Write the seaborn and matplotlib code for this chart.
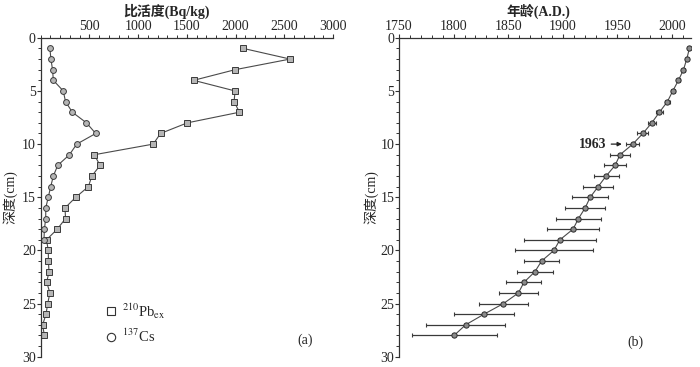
import matplotlib
matplotlib.use("Agg")
import matplotlib.pyplot as plt
from matplotlib.lines import Line2D
from matplotlib.ticker import MultipleLocator
import numpy as np
import pandas as pd
import seaborn as sns

# depth of each sample (cm)
depth = list(range(1, 29))

# 210Pb excess activity (Bq/kg), depths 1-28
pb_ex = [2080, 2560, 1995, 1570, 1995, 1985, 2040, 1505, 1230, 1155,
         550, 610, 525, 490, 360, 250, 255, 170, 60, 78,
         80, 85, 62, 95, 72, 55, 20, 38]

# 137Cs activity (Bq/kg), depths 1-19
cs_depth = list(range(1, 20))
cs137 = [95, 105, 122, 130, 232, 255, 325, 470, 565, 370,
         295, 175, 130, 103, 78, 52, 52, 38, 34]

# age model (A.D.) and its uncertainty (years)
age = [2015.8, 2013.4, 2010.4, 2005.8, 2000.6, 1995.7, 1988.4, 1981.4, 1973.2, 1964.0,
       1952.3, 1947.8, 1939.6, 1932.3, 1925.0, 1920.4, 1914.3, 1909.3, 1897.3, 1891.8,
       1880.5, 1874.4, 1864.4, 1859.3, 1845.6, 1827.8, 1811.0, 1800.4]
age_err = [0.8, 1.0, 1.2, 1.5, 1.8, 2.2, 2.8, 3.5, 5.0, 6.1,
           8.9, 9.9, 11.4, 13.9, 16.2, 18.0, 20.6, 23.7, 32.7, 35.4,
           15.9, 16.8, 16.0, 17.9, 22.1, 27.5, 36.3, 38.9]

sns.set_style("ticks")
plt.rcParams["font.family"] = ["Liberation Serif", "Noto Sans CJK SC"]
plt.rcParams["mathtext.fontset"] = "stix"
plt.rcParams["font.size"] = 10

pb_df = pd.DataFrame({"depth": depth, "value": pb_ex})
cs_df = pd.DataFrame({"depth": cs_depth, "value": cs137})
age_df = pd.DataFrame({"depth": depth, "age": age, "err": age_err})

fig = plt.figure(figsize=(7, 3.67), dpi=100)
ax1 = fig.add_axes([0.0581, 0.028, 0.4176, 0.869])
ax2 = fig.add_axes([0.570, 0.028, 0.4167, 0.869])

line_c = "#4a4a4a"

sns.lineplot(data=pb_df, x="value", y="depth", sort=False, estimator=None,
             marker="s", markersize=4.2, color=line_c, linewidth=0.8,
             markerfacecolor="#b5b5b5", markeredgecolor="#3a3a3a",
             markeredgewidth=0.7, ax=ax1)
sns.lineplot(data=cs_df, x="value", y="depth", sort=False, estimator=None,
             marker="o", markersize=4.2, color=line_c, linewidth=0.8,
             markerfacecolor="#b5b5b5", markeredgecolor="#3a3a3a",
             markeredgewidth=0.7, ax=ax1)

ax2.errorbar(age_df["age"], age_df["depth"], xerr=age_df["err"], fmt="none",
             ecolor="#3a3a3a", elinewidth=0.9, capsize=1.5, capthick=0.8)
sns.lineplot(data=age_df, x="age", y="depth", sort=False, estimator=None,
             marker="o", markersize=3.8, color=line_c, linewidth=0.8,
             markerfacecolor="#8a8a8a", markeredgecolor="#2a2a2a",
             markeredgewidth=0.7, ax=ax2)

for ax in (ax1, ax2):
    ax.set_ylim(30, 0)
    ax.yaxis.set_major_locator(MultipleLocator(5))
    ax.yaxis.set_minor_locator(MultipleLocator(1))
    ax.xaxis.tick_top()
    ax.xaxis.set_label_position("top")
    ax.spines["right"].set_visible(False)
    ax.spines["bottom"].set_visible(False)
    for s in ("left", "top"):
        ax.spines[s].set_color("#333333")
        ax.spines[s].set_linewidth(0.9)
    ax.tick_params(which="major", length=3, width=0.8, color="#333333",
                   labelsize=10, pad=0.5)
    ax.tick_params(which="minor", length=2, width=0.7, color="#333333")
    ax.set_ylabel("深度(cm)", fontsize=10)

ax1.set_xlim(0, 3000)
ax1.set_xticks([500, 1000, 1500, 2000, 2500, 3000])
ax1.xaxis.set_minor_locator(MultipleLocator(100))
ax1.set_xlabel("比活度(Bq/kg)", fontsize=10, fontweight="bold")
ax1.xaxis.set_label_coords(0.432, 1.07)
ax1.yaxis.set_label_coords(-0.08, 0.5)

ax2.set_xlim(1750, 2017)
ax2.set_xticks([1750, 1800, 1850, 1900, 1950, 2000])
ax2.xaxis.set_minor_locator(MultipleLocator(10))
ax2.set_xlabel("年龄(A.D.)", fontsize=10, fontweight="bold")
ax2.xaxis.set_label_coords(0.477, 1.07)
ax2.yaxis.set_label_coords(-0.07, 0.5)

handles = [
    Line2D([], [], linestyle="none", marker="s", markersize=6,
           markerfacecolor="white", markeredgecolor="#333333", markeredgewidth=0.8),
    Line2D([], [], linestyle="none", marker="o", markersize=6,
           markerfacecolor="white", markeredgecolor="#333333", markeredgewidth=0.8),
]
ax1.legend(handles, [r"$^{210}$Pb$_{\rm ex}$", r"$^{137}$Cs"], loc="upper left",
           bbox_to_anchor=(0.17, 0.215), frameon=False, handlelength=1.0,
           handletextpad=0.3, labelspacing=0.5, fontsize=10.5)

ax1.text(0.904, 0.052, "(a)", transform=ax1.transAxes, ha="center", va="center",
         fontsize=10)
ax2.text(0.809, 0.046, "(b)", transform=ax2.transAxes, ha="center", va="center",
         fontsize=10)

ax2.annotate("1963", xy=(1954, 10), xytext=(1940, 10), ha="right", va="center",
             fontsize=10, fontweight="bold",
             arrowprops=dict(arrowstyle="-|>", color="#222222", lw=0.9,
                             mutation_scale=6, shrinkA=1, shrinkB=0))

fig.savefig("out.png", dpi=100)
